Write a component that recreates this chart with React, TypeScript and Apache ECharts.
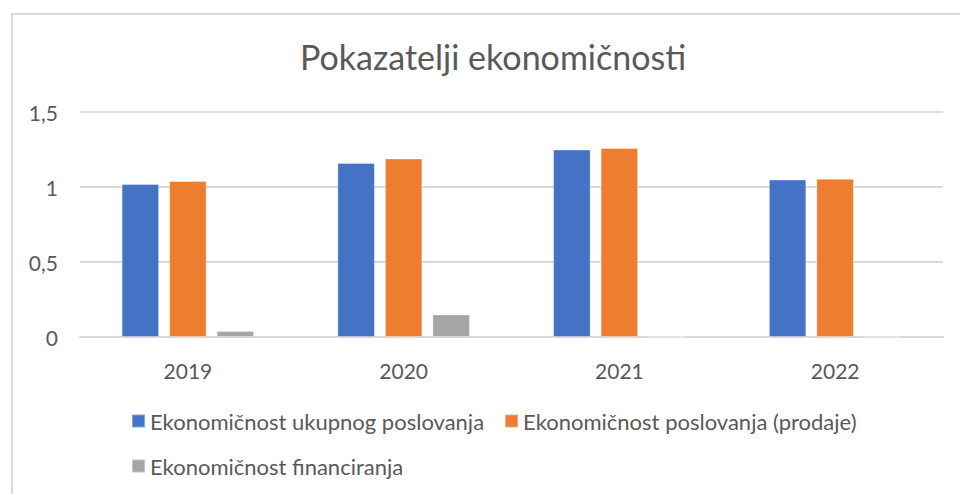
import React, { useEffect, useRef } from "react";
import * as echarts from "echarts";

const categories = ["2019", "2020", "2021", "2022"];
const seriesNames = [
  "Ekonomičnost ukupnog poslovanja",
  "Ekonomičnost poslovanja (prodaje)",
  "Ekonomičnost financiranja",
];
const ukupnog = [1.02, 1.16, 1.25, 1.05];
const prodaje = [1.04, 1.19, 1.26, 1.055];
const financiranja = [0.04, 0.15, 0, 0];
const colors = ["#4472C4", "#ED7D31", "#A5A5A5"];
const titleText = "Pokazatelji ekonomičnosti";

const FONT = "Lato, 'Open Sans', sans-serif";
const TEXT = "#595959";

export default function App() {
  const ref = useRef<HTMLDivElement>(null);
  useEffect(() => {
    if (!ref.current) return;
    const chart = echarts.init(ref.current, undefined, { renderer: "svg" });
    const mk = (name: string, data: number[], color: string) => ({
      name,
      type: "bar",
      data,
      barWidth: 37.5,
      barGap: "26.7%",
      itemStyle: { color, borderColor: "rgba(255,255,255,0.35)", borderWidth: 1 },
    });
    chart.setOption({
      animation: false,
      backgroundColor: "#ffffff",
      textStyle: { fontFamily: FONT },
      title: {
        text: titleText,
        left: 295,
        top: 34,
        textStyle: { fontFamily: FONT, fontSize: 34, fontWeight: "normal", color: TEXT },
      },
      graphic: [
        {
          type: "rect",
          shape: { x: 12, y: 14, width: 980, height: 520 },
          style: { fill: "none", stroke: "#d9d9d9", lineWidth: 2 },
          silent: true,
        },
      ],
      grid: { left: 80, right: 17, top: 112, bottom: 157, containLabel: false },
      xAxis: {
        type: "category",
        data: categories,
        axisLine: { show: true, lineStyle: { color: "#d9d9d9", width: 2 } },
        axisTick: { show: false },
        axisLabel: { color: TEXT, fontSize: 21, fontFamily: FONT, margin: 23 },
      },
      yAxis: {
        type: "value",
        min: 0,
        max: 1.5,
        interval: 0.5,
        axisLine: { show: false },
        axisTick: { show: false },
        splitLine: { lineStyle: { color: "#d9d9d9", width: 2 } },
        axisLabel: {
          color: TEXT,
          fontSize: 21,
          fontFamily: FONT,
          margin: 22,
          formatter: (v: number) => String(v).replace(".", ","),
        },
      },
      legend: [
        {
          data: [seriesNames[0], seriesNames[1]],
          left: 126,
          top: 405,
          icon: "rect",
          itemWidth: 13,
          itemHeight: 13,
          itemGap: 20,
          textStyle: { color: TEXT, fontSize: 22, fontFamily: FONT },
        },
        {
          data: [seriesNames[2]],
          left: 126,
          top: 450,
          icon: "rect",
          itemWidth: 13,
          itemHeight: 13,
          textStyle: { color: TEXT, fontSize: 22, fontFamily: FONT },
        },
      ],
      series: [
        mk(seriesNames[0], ukupnog, colors[0]),
        mk(seriesNames[1], prodaje, colors[1]),
        mk(seriesNames[2], financiranja, colors[2]),
      ],
    });
    return () => chart.dispose();
  }, []);
  return (
    <div
      ref={ref}
      style={{ position: "fixed", left: 0, top: 0, width: 960, height: 494 }}
    />
  );
}
